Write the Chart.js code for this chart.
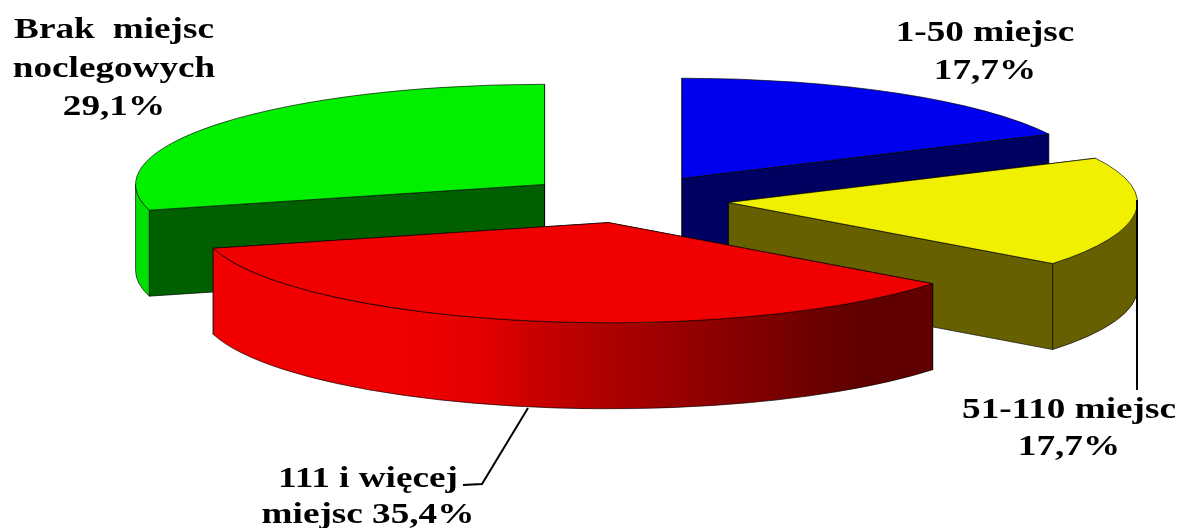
<!DOCTYPE html>
<html lang="pl">
<head>
<meta charset="utf-8">
<title>Miejsca noclegowe</title>
<script src="https://cdn.jsdelivr.net/npm/chart.js@4"></script>
<style>
  html, body { margin: 0; padding: 0; background: #fff; }
  canvas { display: block; }
</style>
</head>
<body>
<canvas id="pie" width="1178" height="528"></canvas>
<script>
// dane wykresu
const categories = ['1-50 miejsc', '51-110 miejsc', '111 i więcej miejsc', 'Brak miejsc noclegowych'];
const shares = [17.7, 17.7, 35.4, 29.1];
const labelLines = [
  ['1-50 miejsc', '17,7%'],
  ['51-110 miejsc', '17,7%'],
  ['111 i więcej', 'miejsc 35,4%'],
  ['Brak miejsc', 'noclegowych', '29,1%']
];

const topColors = ['#0000f0', '#f0f000', '#f00000', '#00f000'];
const sideColors = ['#000060', '#666000', '#600000', '#006000'];
const rimColors = ['#000060', '#666000', null, '#00e000'];

// wyglad "3D": splaszczenie, grubosc i odsuniecie wycinkow
const squash = 0.245;
const depth = 86;
const explode = [104, 102, 94, 104];
const drawOrder = [3, 0, 1, 2];
const outline = 'rgba(0, 0, 0, 0.65)';

// gdzie stoja podpisy (srodek tekstu, linia bazowa pierwszego wiersza, odstep)
const labelPlaces = [
  { x: 985, y: 41, gap: 38, wordGap: 0 },
  { x: 1069, y: 418, gap: 37, wordGap: 0 },
  { x: 368, y: 487, gap: 36, wordGap: 0 },
  { x: 114, y: 38, gap: 38.5, wordGap: 7 }
];
const textStretch = 1.24;
const leaders = [
  [[1137, 200], [1137, 390]],
  [[528, 408], [482, 484], [463, 485]]
];

function redGradient(ctx, left, right) {
  const grad = ctx.createLinearGradient(left, 0, right, 0);
  grad.addColorStop(0, '#f00000');
  grad.addColorStop(0.26, '#f00000');
  grad.addColorStop(0.375, '#e40000');
  grad.addColorStop(0.44, '#cc0000');
  grad.addColorStop(0.54, '#b00000');
  grad.addColorStop(0.9, '#600000');
  grad.addColorStop(1, '#600000');
  return grad;
}

function drawSlice(ctx, arc, i) {
  const { x, y, startAngle, endAngle, outerRadius } = arc.getProps(['x', 'y', 'startAngle', 'endAngle', 'outerRadius']);
  const mid = (startAngle + endAngle) / 2;
  const cx = x + Math.cos(mid) * explode[i];
  const cy = y + Math.sin(mid) * explode[i] * squash;
  const ry = outerRadius * squash;

  ctx.lineWidth = 1;
  ctx.strokeStyle = outline;

  // sciany wzdluz promieni
  [startAngle, endAngle].forEach(angle => {
    const ex = cx + Math.cos(angle) * outerRadius;
    const ey = cy + Math.sin(angle) * ry;
    ctx.beginPath();
    ctx.moveTo(cx, cy);
    ctx.lineTo(ex, ey);
    ctx.lineTo(ex, ey + depth);
    ctx.lineTo(cx, cy + depth);
    ctx.closePath();
    ctx.fillStyle = sideColors[i];
    ctx.fill();
    ctx.stroke();
  });

  // zaokraglona sciana, widoczna tylko z przodu
  const from = Math.max(startAngle, 0);
  const to = Math.min(endAngle, Math.PI);
  if (to > from) {
    ctx.beginPath();
    ctx.ellipse(cx, cy, outerRadius, ry, 0, from, to);
    ctx.ellipse(cx, cy + depth, outerRadius, ry, 0, to, from, true);
    ctx.closePath();
    ctx.fillStyle = rimColors[i] || redGradient(ctx, cx + Math.cos(to) * outerRadius, cx + Math.cos(from) * outerRadius);
    ctx.fill();
    ctx.stroke();
  }

  // wierzch rysuje sam element luku
  ctx.save();
  ctx.translate(cx, cy);
  ctx.scale(1, squash);
  ctx.translate(-x, -y);
  arc.draw(ctx);
  ctx.restore();

  ctx.beginPath();
  ctx.moveTo(cx, cy);
  ctx.ellipse(cx, cy, outerRadius, ry, 0, startAngle, endAngle);
  ctx.closePath();
  ctx.stroke();
}

const pie3d = {
  id: 'pie3d',
  beforeDatasetsDraw(chart) {
    const arcs = chart.getDatasetMeta(0).data;
    drawOrder.forEach(i => drawSlice(chart.ctx, arcs[i], i));
    return false;
  },
  afterDraw(chart) {
    const ctx = chart.ctx;
    ctx.save();
    ctx.strokeStyle = '#000';
    ctx.lineWidth = 2;
    leaders.forEach(points => {
      ctx.beginPath();
      points.forEach((p, n) => n ? ctx.lineTo(p[0], p[1]) : ctx.moveTo(p[0], p[1]));
      ctx.stroke();
    });
    ctx.fillStyle = '#000';
    ctx.font = 'bold 30px "Liberation Serif"';
    ctx.textAlign = 'center';
    ctx.textBaseline = 'alphabetic';
    labelLines.forEach((lines, i) => {
      const place = labelPlaces[i];
      ctx.wordSpacing = place.wordGap + 'px';
      lines.forEach((line, n) => {
        ctx.save();
        ctx.translate(place.x, place.y + n * place.gap);
        ctx.scale(textStretch, 1);
        ctx.fillText(line, 0, 0);
        ctx.restore();
      });
    });
    ctx.restore();
  }
};

new Chart(document.getElementById('pie'), {
  type: 'pie',
  data: {
    labels: categories,
    datasets: [{
      data: shares,
      backgroundColor: topColors,
      borderWidth: 0
    }]
  },
  options: {
    responsive: false,
    animation: false,
    radius: 409,
    layout: { padding: { left: 76, bottom: 128 } },
    plugins: {
      legend: { display: false },
      tooltip: { enabled: false }
    }
  },
  plugins: [pie3d]
});
</script>
</body>
</html>
